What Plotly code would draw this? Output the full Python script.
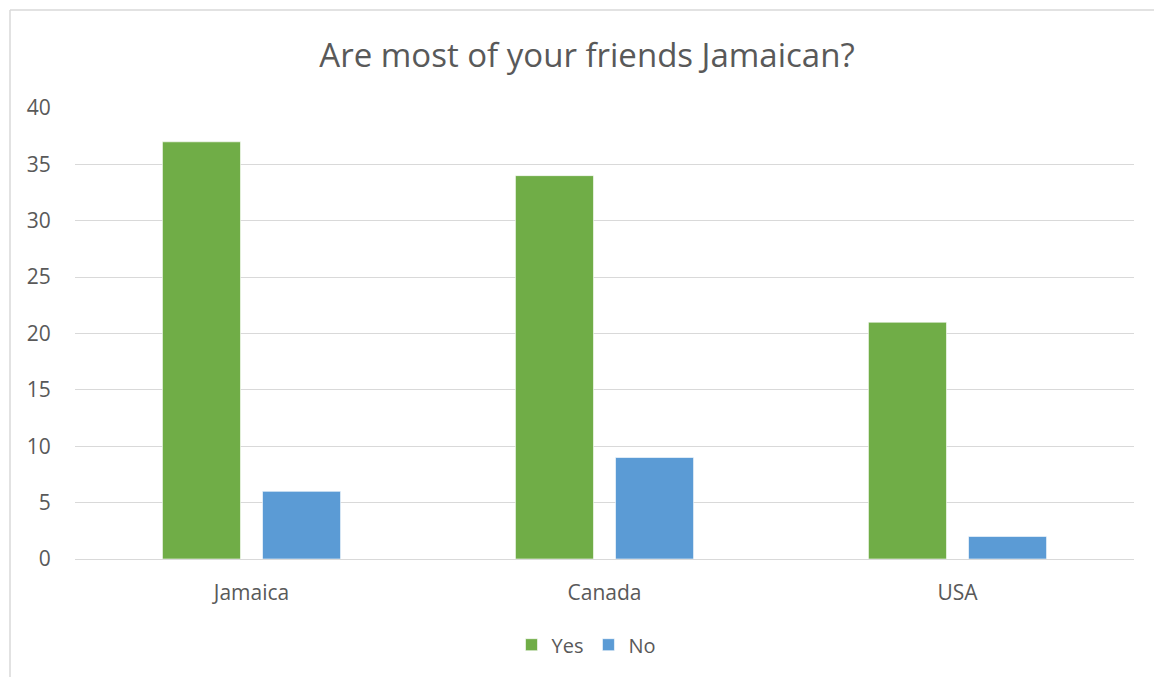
import plotly.graph_objects as go

countries = ["Jamaica", "Canada", "USA"]
yes_counts = [37, 34, 21]
no_counts = [6, 9, 2]
y_ticks = [0, 5, 10, 15, 20, 25, 30, 35, 40]

text_color = "#595959"
font_family = "Open Sans, Noto Sans, sans-serif"

fig = go.Figure()
fig.add_trace(go.Bar(
    name="Yes", x=countries, y=yes_counts,
    marker=dict(color="#70AD47", line=dict(color="#FFFFFF", width=0.6)),
))
fig.add_trace(go.Bar(
    name="No", x=countries, y=no_counts,
    marker=dict(color="#5B9BD5", line=dict(color="#FFFFFF", width=0.6)),
))

fig.update_layout(
    width=1154, height=677,
    margin=dict(l=75, r=20, t=108, b=118),
    paper_bgcolor="white", plot_bgcolor="white",
    font=dict(family=font_family, color=text_color, size=20),
    barmode="group", bargap=0.433, bargroupgap=0.22,
    title=dict(
        text="Are most of your friends Jamaican?",
        x=587 / 1154, xref="container", xanchor="center",
        y=1 - 55 / 677, yref="container", yanchor="middle",
        font=dict(size=33, color=text_color, family=font_family),
    ),
    legend=dict(
        orientation="h", x=0.483, xanchor="center",
        y=-0.19, yanchor="middle",
        font=dict(size=20, color=text_color),
        itemwidth=30, traceorder="normal",
    ),
    shapes=[
        dict(type="line", xref="paper", yref="paper",
             x0=-65 / 1059, x1=1.1, y0=1 + 98 / 451, y1=1 + 98 / 451,
             line=dict(color="#D9D9D9", width=1.5)),
        dict(type="line", xref="paper", yref="paper",
             x0=-65 / 1059, x1=-65 / 1059, y0=1 + 98 / 451, y1=-0.3,
             line=dict(color="#D9D9D9", width=1.5)),
    ],
)

fig.update_xaxes(
    showgrid=False, showline=False, zeroline=False,
    ticks="outside", ticklen=15, tickcolor="rgba(0,0,0,0)",
    tickfont=dict(size=21, color=text_color),
)
fig.update_yaxes(
    range=[0, 40], tickvals=y_ticks,
    showgrid=True, gridcolor="#D9D9D9", gridwidth=1,
    zeroline=True, zerolinecolor="#D9D9D9", zerolinewidth=1,
    showline=False,
    ticks="outside", ticklen=19, tickcolor="rgba(0,0,0,0)",
    tickfont=dict(size=21, color=text_color),
)

fig.write_html("out.html")
